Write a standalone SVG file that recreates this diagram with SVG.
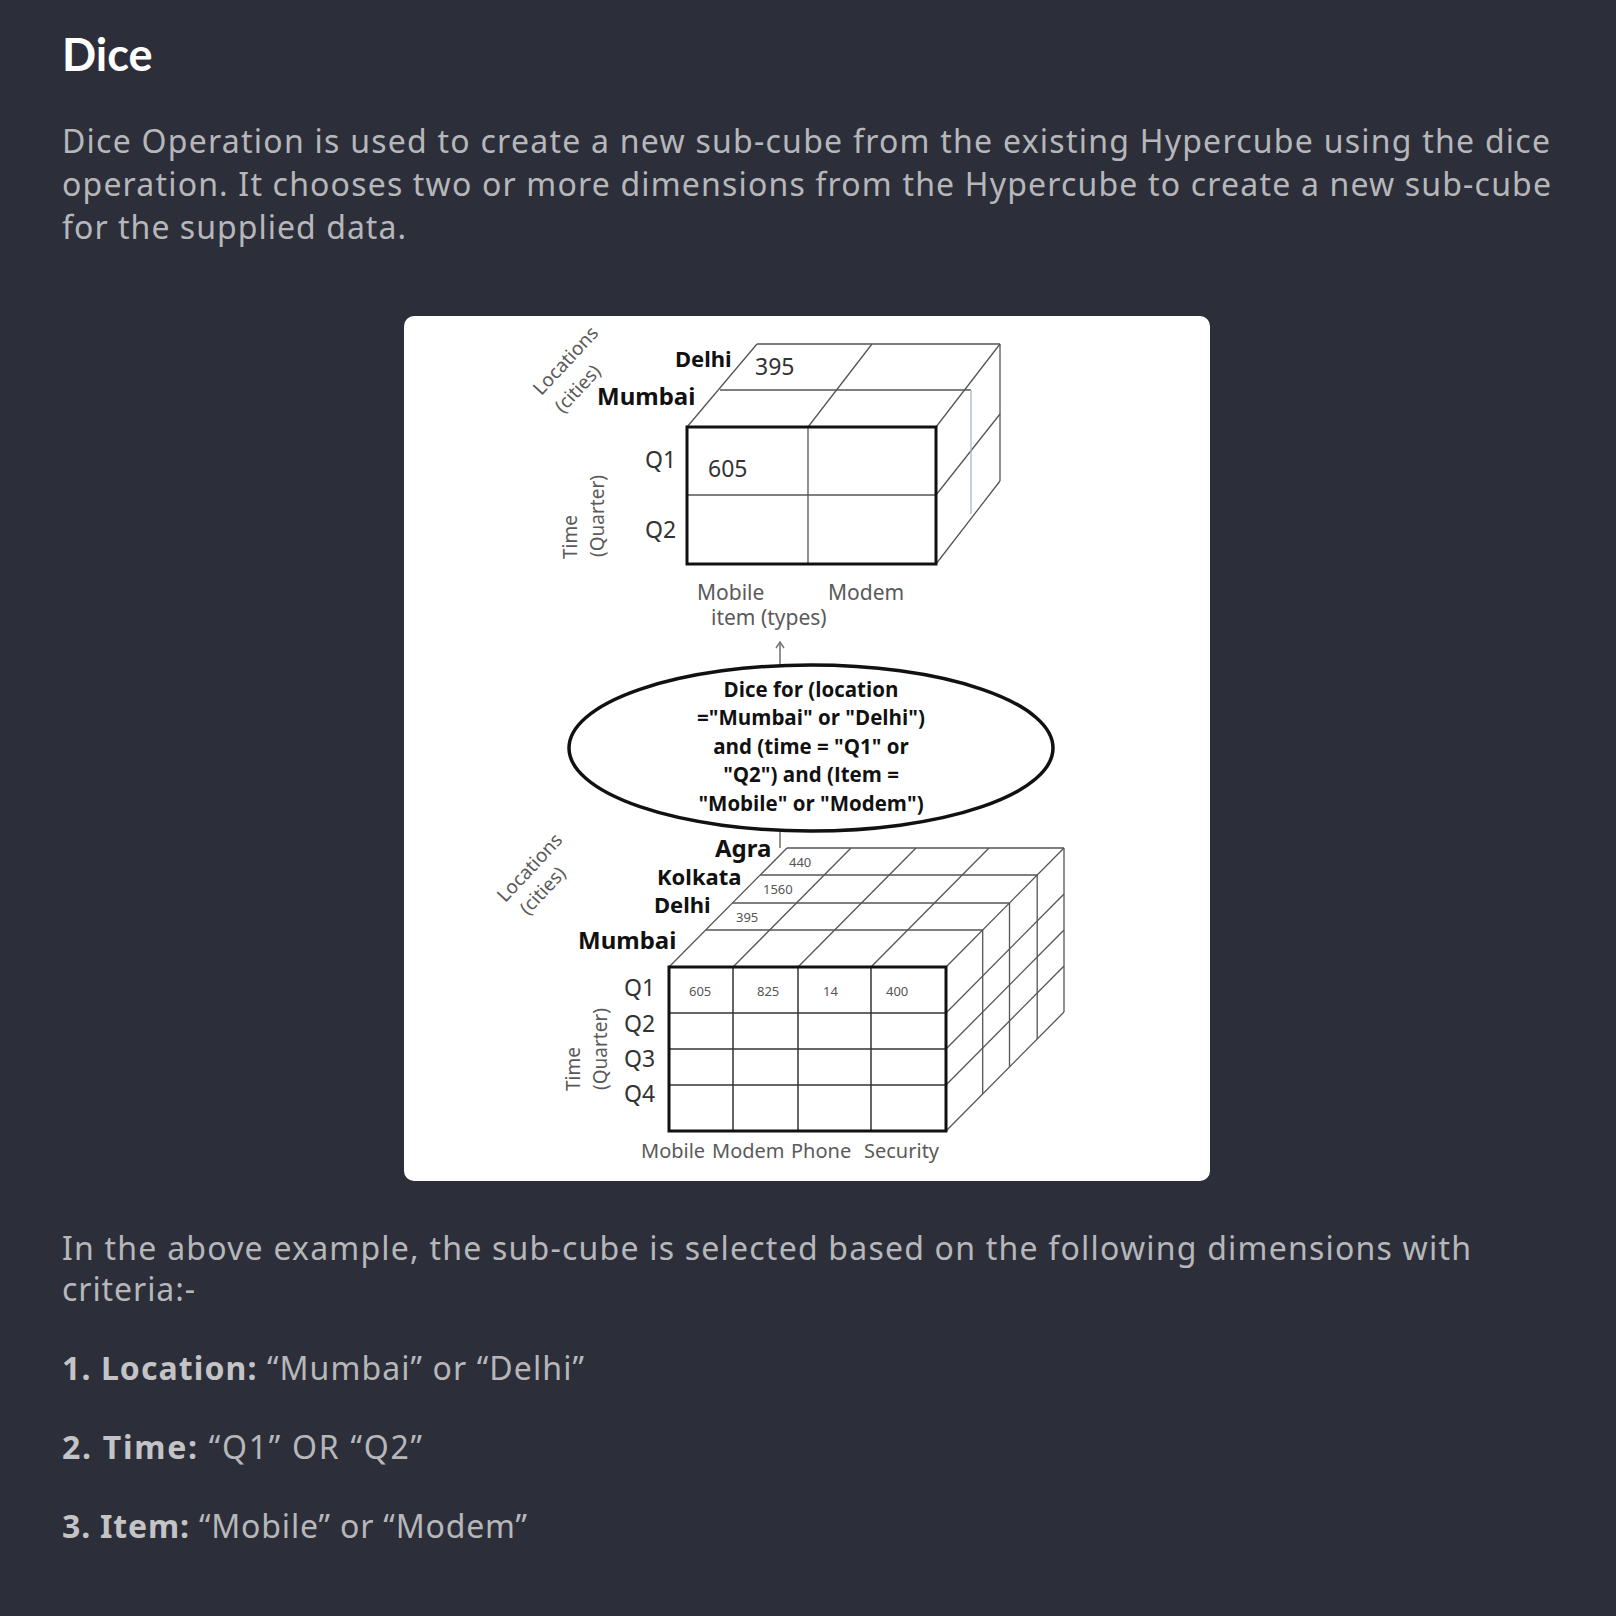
<svg xmlns="http://www.w3.org/2000/svg" width="1616" height="1616" viewBox="0 0 1616 1616">
<defs>
<style>
.page{font-family:"Noto Sans",Lato,sans-serif;fill:#b7b7ba;font-size:32px}
.title{font-family:Lato,"Noto Sans",sans-serif;fill:#ffffff;font-size:45px;font-weight:700}
.b{font-weight:700;fill:#c4c4c6}
.lbl{font-family:"Noto Sans","Open Sans",sans-serif;font-weight:700;fill:#111}
.num{font-family:"Noto Sans","Open Sans",sans-serif;fill:#333}
.ax{font-family:"Noto Sans","Open Sans",sans-serif;fill:#5a5a5a}
.sm{font-family:"Liberation Sans Narrow","Noto Sans",sans-serif;fill:#555;font-size:13px}
.ell{font-family:"Open Sans","Noto Sans",sans-serif;font-weight:700;fill:#111;font-size:20.5px}
.thin{stroke:#555;stroke-width:1.3;fill:none}
.inner{stroke:#333;stroke-width:1.5;fill:none}
.thick{stroke:#111;stroke-width:3;fill:none}
.conn{stroke:#777;stroke-width:1.6;fill:none}
</style>
<marker id="arr" viewBox="0 0 10 10" refX="9" refY="5" markerWidth="10" markerHeight="10" markerUnits="userSpaceOnUse" orient="auto">
<path d="M3,1 L9,5 L3,9" stroke="#777" stroke-width="1.5" fill="none"/>
</marker>
</defs>
<rect x="0" y="0" width="1616" height="1616" fill="#2c2f3a"/>

<g id="header">
<text class="title" x="62" y="71">Dice</text>
<text class="page" x="62" y="153" textLength="1488">Dice Operation is used to create a new sub-cube from the existing Hypercube using the dice</text>
<text class="page" x="62" y="196" textLength="1489">operation. It chooses two or more dimensions from the Hypercube to create a new sub-cube</text>
<text class="page" x="62" y="239" textLength="344">for the supplied data.</text>
</g>

<rect id="card" x="404" y="316" width="806" height="865" rx="10" fill="#ffffff"/>

<g id="top-cube">
<line class="thin" x1="687" y1="427" x2="757" y2="344"/>
<line class="thin" x1="757" y1="344" x2="1000" y2="344"/>
<line class="thin" x1="808" y1="427" x2="872" y2="344"/>
<line class="thin" x1="936" y1="427" x2="1000" y2="344"/>
<line class="thin" x1="720" y1="390" x2="971" y2="390"/>
<line class="thin" x1="936" y1="495" x2="1000" y2="414"/>
<line class="thin" x1="936" y1="564" x2="1000" y2="481"/>
<line class="thin" x1="1000" y1="344" x2="1000" y2="481"/>
<line x1="971" y1="390" x2="971" y2="514" stroke="#a9b9cc" stroke-width="1.3"/>
<line class="thin" x1="808" y1="427" x2="808" y2="564"/>
<line class="thin" x1="687" y1="495" x2="936" y2="495"/>
<rect class="thick" x="687" y="427" width="249" height="137"/>
<text class="lbl" x="675" y="367" font-size="22">Delhi</text>
<text class="num" x="755" y="375" font-size="23">395</text>
<text class="lbl" x="597" y="405" font-size="24">Mumbai</text>
<text class="num" x="645" y="468" font-size="23">Q1</text>
<text class="num" x="708" y="477" font-size="23">605</text>
<text class="num" x="645" y="538" font-size="23">Q2</text>
<text class="ax" font-size="19" text-anchor="middle" transform="translate(577,537) rotate(-90)">Time</text>
<text class="ax" font-size="19" text-anchor="middle" transform="translate(604,516) rotate(-90)">(Quarter)</text>
<text class="ax" font-size="19" text-anchor="middle" y="6" transform="translate(566,361) rotate(-47)">Locations</text>
<text class="ax" font-size="19" text-anchor="middle" y="6" transform="translate(578,389) rotate(-47)">(cities)</text>
<text class="ax" x="697" y="600" font-size="21">Mobile</text>
<text class="ax" x="828" y="600" font-size="21">Modem</text>
<text class="ax" x="711" y="625" font-size="21">item (types)</text>
</g>

<g id="dice-ellipse">
<ellipse cx="811" cy="748" rx="242" ry="83" fill="#ffffff" stroke="#111" stroke-width="3.5"/>
<text class="ell" x="811" y="697" text-anchor="middle">Dice for (location</text>
<text class="ell" x="811" y="725" text-anchor="middle">="Mumbai" or "Delhi")</text>
<text class="ell" x="811" y="754" text-anchor="middle">and (time = "Q1" or</text>
<text class="ell" x="811" y="782" text-anchor="middle">"Q2") and (Item =</text>
<text class="ell" x="811" y="811" text-anchor="middle">"Mobile" or "Modem")</text>
</g>

<g id="connectors">
<line class="conn" x1="780" y1="664" x2="780" y2="642" marker-end="url(#arr)"/>
<line class="conn" x1="780" y1="832" x2="780" y2="848"/>
</g>

<g id="bottom-cube">
<line class="thin" x1="669" y1="967" x2="787" y2="848"/>
<line class="thin" x1="733" y1="967" x2="851" y2="848"/>
<line class="thin" x1="798" y1="967" x2="916" y2="848"/>
<line class="thin" x1="871" y1="967" x2="989" y2="848"/>
<line class="thin" x1="946" y1="967" x2="1064" y2="848"/>
<line class="thin" x1="705.7" y1="930" x2="982.7" y2="930"/>
<line class="thin" x1="732.5" y1="903" x2="1009.5" y2="903"/>
<line class="thin" x1="760.2" y1="875" x2="1037.2" y2="875"/>
<line class="thin" x1="787" y1="848" x2="1064" y2="848"/>
<line class="thin" x1="982.7" y1="930" x2="982.7" y2="1094"/>
<line class="thin" x1="1009.5" y1="903" x2="1009.5" y2="1067"/>
<line class="thin" x1="1037.2" y1="875" x2="1037.2" y2="1039"/>
<line class="thin" x1="1064" y1="848" x2="1064" y2="1012"/>
<line class="thin" x1="946" y1="1013" x2="1064" y2="894"/>
<line class="thin" x1="946" y1="1049" x2="1064" y2="930"/>
<line class="thin" x1="946" y1="1085" x2="1064" y2="966"/>
<line class="thin" x1="946" y1="1131" x2="1064" y2="1012"/>
<line class="inner" x1="733" y1="967" x2="733" y2="1131"/>
<line class="inner" x1="798" y1="967" x2="798" y2="1131"/>
<line class="inner" x1="871" y1="967" x2="871" y2="1131"/>
<line class="inner" x1="669" y1="1013" x2="946" y2="1013"/>
<line class="inner" x1="669" y1="1049" x2="946" y2="1049"/>
<line class="inner" x1="669" y1="1085" x2="946" y2="1085"/>
<rect class="thick" x="669" y="967" width="277" height="164"/>
<text class="lbl" x="715" y="857" font-size="24">Agra</text>
<text class="lbl" x="657" y="885" font-size="22">Kolkata</text>
<text class="lbl" x="654" y="913" font-size="22">Delhi</text>
<text class="lbl" x="578" y="949" font-size="24">Mumbai</text>
<text class="sm" x="789" y="867">440</text>
<text class="sm" x="763" y="894">1560</text>
<text class="sm" x="736" y="922">395</text>
<text class="sm" x="689" y="996">605</text>
<text class="sm" x="757" y="996">825</text>
<text class="sm" x="823" y="996">14</text>
<text class="sm" x="886" y="996">400</text>
<text class="num" x="624" y="996" font-size="23">Q1</text>
<text class="num" x="624" y="1032" font-size="23">Q2</text>
<text class="num" x="624" y="1067" font-size="23">Q3</text>
<text class="num" x="624" y="1102" font-size="23">Q4</text>
<text class="ax" font-size="19" text-anchor="middle" transform="translate(580,1069) rotate(-90)">Time</text>
<text class="ax" font-size="19" text-anchor="middle" transform="translate(607,1049) rotate(-90)">(Quarter)</text>
<text class="ax" font-size="19" text-anchor="middle" y="6" transform="translate(530,868) rotate(-47)">Locations</text>
<text class="ax" font-size="19" text-anchor="middle" y="6" transform="translate(543,891) rotate(-47)">(cities)</text>
<text class="ax" x="641" y="1158" font-size="20">Mobile</text>
<text class="ax" x="712" y="1158" font-size="20">Modem</text>
<text class="ax" x="791" y="1158" font-size="20">Phone</text>
<text class="ax" x="864" y="1158" font-size="20">Security</text>
</g>

<g id="footer">
<text class="page" x="62" y="1260" textLength="1409">In the above example, the sub-cube is selected based on the following dimensions with</text>
<text class="page" x="62" y="1301" textLength="133">criteria:-</text>
<text class="page" x="62" y="1380" textLength="522"><tspan class="b">1. Location:</tspan> “Mumbai” or “Delhi”</text>
<text class="page" x="62" y="1459" textLength="360"><tspan class="b">2. Time:</tspan> “Q1” OR “Q2”</text>
<text class="page" x="62" y="1538" textLength="465"><tspan class="b">3. Item:</tspan> “Mobile” or “Modem”</text>
</g>
</svg>
